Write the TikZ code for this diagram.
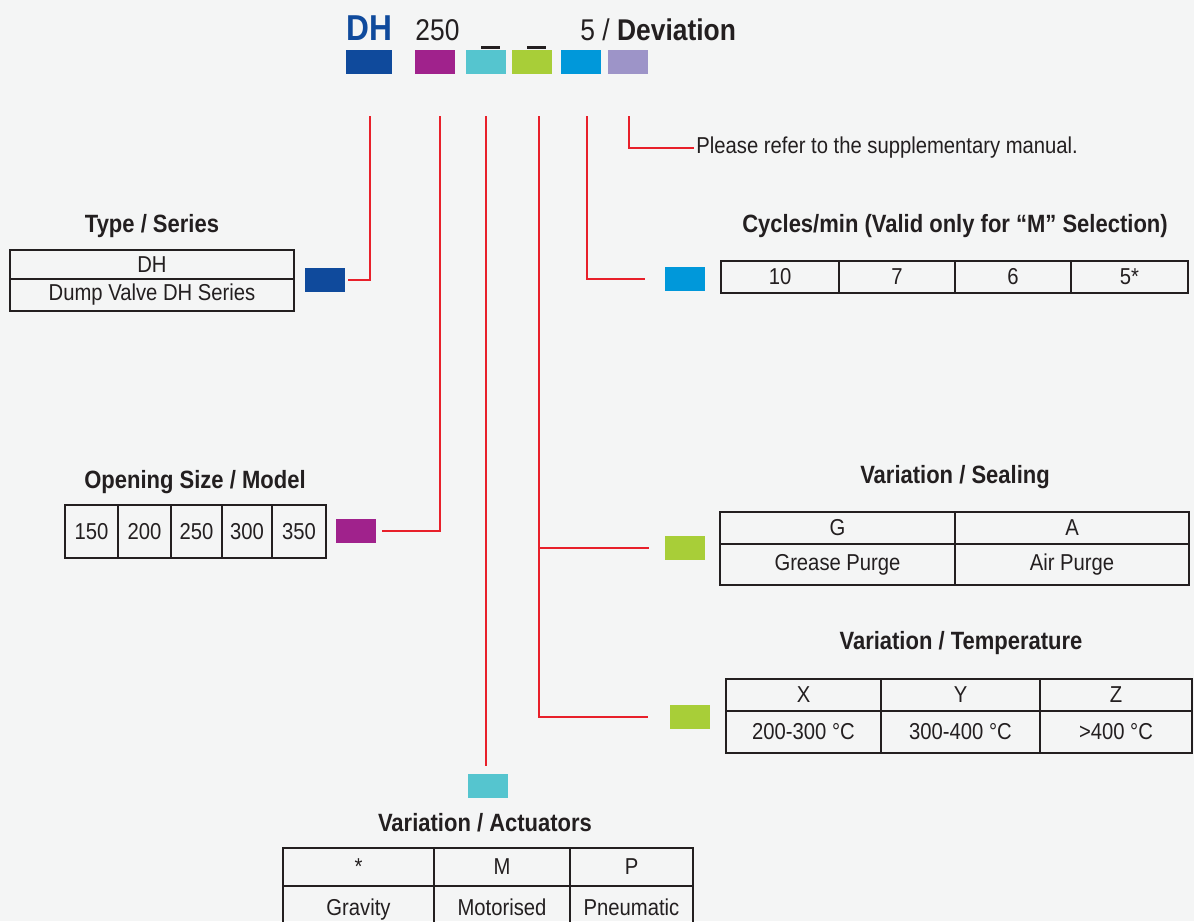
\documentclass[tikz,border=0pt]{standalone}
\usepackage{fontspec}
\setmainfont{Liberation Sans}[FakeStretch=0.88]

\definecolor{pageback}{HTML}{F4F5F5}
\definecolor{ink}{HTML}{231F20}
\definecolor{codeblue}{HTML}{0F4A9C}
\definecolor{codemagenta}{HTML}{A0228C}
\definecolor{codecyan}{HTML}{55C5CF}
\definecolor{codegreen}{HTML}{A8CE38}
\definecolor{codesky}{HTML}{0098DA}
\definecolor{codelilac}{HTML}{9D94C8}
\definecolor{leadred}{HTML}{E8202A}

\begin{document}
\begin{tikzpicture}[
    x=0.5pt, y=-0.5pt,
    code/.style={minimum width=20pt, minimum height=12pt, inner sep=0pt},
    cell/.style={draw=ink, line width=1.25pt, inner sep=0pt, text=ink, font=\fontsize{11.5}{13}\selectfont},
    heading/.style={text=ink, font=\fontsize{12.5}{15}\selectfont\bfseries},
    wire/.style={draw=leadred, line width=1pt}
]

\clip (0,0) rectangle (1194,921);
\fill[pageback] (0,0) rectangle (1194,921);

% Order code line
\node[anchor=base, text=codeblue, font=\fontsize{18}{20}\selectfont\bfseries] (hdDH) at (369.5,40) {DH};
\node[anchor=base, text=ink, font=\fontsize{15}{18}\selectfont] (hdSize) at (437.5,40) {250};
\node[fill=ink, minimum width=9.5pt, minimum height=1.5pt, inner sep=0pt] (blankA) at (490.5,47.5) {};
\node[fill=ink, minimum width=9.5pt, minimum height=1.5pt, inner sep=0pt] (blankB) at (536.5,47.5) {};
\node[anchor=base west, text=ink, font=\fontsize{15}{18}\selectfont, inner sep=0pt] (hdDev) at (580,40) {5 / \textbf{Deviation}};

% Colour keys under the code
\node[code, fill=codeblue, minimum width=23pt] (keyType) at (369,62) {};
\node[code, fill=codemagenta] (keySize) at (435,62) {};
\node[code, fill=codecyan] (keyAct) at (486,62) {};
\node[code, fill=codegreen] (keyVar) at (532,62) {};
\node[code, fill=codesky] (keyCyc) at (581,62) {};
\node[code, fill=codelilac] (keyDev) at (628,62) {};

% Type / Series
\node[heading] (ttlType) at (152,226) {Type / Series};
\node[cell, minimum width=142pt, minimum height=14.5pt] (typeA) at (152,264.5) {DH};
\node[cell, minimum width=142pt, minimum height=16pt] (typeB) at (152,295) {Dump Valve DH Series};
\node[code, fill=codeblue] (typeCode) at (325,280) {};

% Opening Size / Model
\node[heading] (ttlSize) at (195,482) {Opening Size / Model};
\node[cell, minimum width=26.5pt, minimum height=26.5pt] (size150) at (91.5,531.5) {150};
\node[cell, minimum width=26.5pt, minimum height=26.5pt] (size200) at (144.5,531.5) {200};
\node[cell, minimum width=25.5pt, minimum height=26.5pt] (size250) at (196.5,531.5) {250};
\node[cell, minimum width=25pt, minimum height=26.5pt] (size300) at (247,531.5) {300};
\node[cell, minimum width=27pt, minimum height=26.5pt] (size350) at (299,531.5) {350};
\node[code, fill=codemagenta] (sizeCode) at (356,531) {};

% Cycles/min
\node[heading] (ttlCyc) at (955,226) {Cycles/min (Valid only for “M” Selection)};
\node[cell, minimum width=59pt, minimum height=16pt] (cyc10) at (780,277) {10};
\node[cell, minimum width=58pt, minimum height=16pt] (cyc7) at (897,277) {7};
\node[cell, minimum width=58pt, minimum height=16pt] (cyc6) at (1013,277) {6};
\node[cell, minimum width=58.5pt, minimum height=16pt] (cyc5) at (1129.5,277) {5*};
\node[code, fill=codesky] (cycCode) at (685,279) {};

% Variation / Sealing
\node[heading] (ttlSeal) at (955,477) {Variation / Sealing};
\node[cell, minimum width=117.5pt, minimum height=16pt] (sealG) at (837.5,528) {G};
\node[cell, minimum width=117pt, minimum height=16pt] (sealA) at (1072,528) {A};
\node[cell, minimum width=117.5pt, minimum height=20.5pt] (sealGrease) at (837.5,564.5) {Grease Purge};
\node[cell, minimum width=117pt, minimum height=20.5pt] (sealAir) at (1072,564.5) {Air Purge};
\node[code, fill=codegreen] (sealCode) at (685,548) {};

% Variation / Temperature
\node[heading] (ttlTemp) at (961,643) {Variation / Temperature};
\node[cell, minimum width=77.5pt, minimum height=16pt] (tempX) at (803.5,695) {X};
\node[cell, minimum width=79.5pt, minimum height=16pt] (tempY) at (960.5,695) {Y};
\node[cell, minimum width=76pt, minimum height=16pt] (tempZ) at (1116,695) {Z};
\node[cell, minimum width=77.5pt, minimum height=21pt] (tempLow) at (803.5,732) {200-300 °C};
\node[cell, minimum width=79.5pt, minimum height=21pt] (tempMid) at (960.5,732) {300-400 °C};
\node[cell, minimum width=76pt, minimum height=21pt] (tempHigh) at (1116,732) {>400 °C};
\node[code, fill=codegreen] (tempCode) at (690,717) {};

% Variation / Actuators (bottom row runs off the page)
\node[code, fill=codecyan] (actCode) at (488,786) {};
\node[heading] (ttlAct) at (485,823) {Variation / Actuators};
\node[cell, minimum width=75.5pt, minimum height=19pt] (actStar) at (358.5,867) {*};
\node[cell, minimum width=68pt, minimum height=19pt] (actM) at (502,867) {M};
\node[cell, minimum width=61.5pt, minimum height=19pt] (actP) at (631.5,867) {P};
\node[cell, minimum width=75.5pt, minimum height=24pt, text depth=3pt] (actGrav) at (358.5,910) {Gravity};
\node[cell, minimum width=68pt, minimum height=24pt, text depth=3pt] (actMot) at (502,910) {Motorised};
\node[cell, minimum width=61.5pt, minimum height=24pt, text depth=3pt] (actPneu) at (631.5,910) {Pneumatic};

% Deviation note
\node[anchor=west, inner sep=1pt, text=ink, font=\fontsize{11.5}{13}\selectfont] (devNote) at (694,148) {Please refer to the supplementary manual.};

% Leader lines
\coordinate (tapType) at (370,116);
\coordinate (tapSize) at (440,116);
\coordinate (tapAct) at (486,116);
\coordinate (tapVar) at (539,116);
\coordinate (tapCyc) at (587,116);
\coordinate (tapDev) at (629,116);

\draw[wire, shorten >=1.5pt] (tapType) |- (typeCode);
\draw[wire, shorten >=3pt] (tapSize) |- (sizeCode);
\draw[wire, shorten >=4pt] (tapAct) -- (tapAct |- actCode.north);
\draw[wire, shorten >=11pt] (tapVar) |- (tempCode);
\draw[wire, shorten >=8pt] (tapVar |- sealCode) -- (sealCode);
\draw[wire, shorten >=10pt] (tapCyc) |- (cycCode);
\draw[wire] (tapDev) |- (devNote);

\end{tikzpicture}
\end{document}
